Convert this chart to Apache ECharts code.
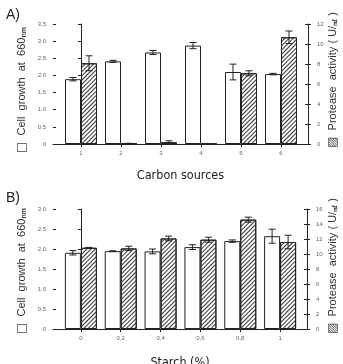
<!DOCTYPE html>
<html><head><meta charset="utf-8">
<script src="https://cdn.jsdelivr.net/npm/echarts@6/dist/echarts.min.js"></script>
<style>html,body{margin:0;padding:0;background:#fff}#c{width:343px;height:364px}</style>
</head><body><div id="c"></div>
<script>
// ---- data ----
const catsA = ['1', '2', '3', '4', '5', '6'];
const growthA = [1.89, 2.41, 2.67, 2.87, 2.10, 2.04];
const growthErrA = [0.05, 0.03, 0.06, 0.09, 0.23, 0.02];
const proteaseA = [8.07, 0.05, 0.17, 0, 7.07, 10.67];
const proteaseErrA = [0.75, 0.02, 0.15, 0, 0.25, 0.63];

const catsB = ['0', '0,2', '0,4', '0,6', '0,8', '1'];
const growthB = [1.905, 1.946, 1.94, 2.047, 2.197, 2.32];
const growthErrB = [0.055, 0.01, 0.06, 0.06, 0.03, 0.175];
const proteaseB = [10.83, 10.74, 12.07, 11.91, 14.58, 11.6];
const proteaseErrB = [0.05, 0.29, 0.31, 0.33, 0.33, 0.9];

// ---- styles ----
const BAR_W = 16;
const AX = '#222';
const LBL = '#666';
const nameFont = '"Liberation Sans", Arial, sans-serif';
const titleFont = '"Liberation Sans Narrow", "DejaVu Sans Condensed", "Liberation Sans", sans-serif';

const idx = catsA.map((_, i) => i);
const hatch = {
  color: '#fff', borderColor: AX, borderWidth: 1,
  decal: { symbol: 'rect', symbolSize: 1, dashArrayX: [1, 0], dashArrayY: [1, 1.4], rotation: -Math.PI / 4, color: '#333' }
};
const plain = { color: '#fff', borderColor: AX, borderWidth: 1 };

function xAxis(grid, cats, name, gap) {
  return {
    type: 'value', gridIndex: grid, min: -0.7, max: 5.675,
    splitLine: { show: false },
    axisLine: { lineStyle: { color: AX, width: 1 } },
    axisTick: { show: true, length: 3, customValues: idx, lineStyle: { color: AX } },
    axisLabel: { customValues: idx, formatter: v => cats[Math.round(v)], fontSize: 6, color: LBL, margin: 6 },
    name: name, nameLocation: 'middle', nameGap: gap, nameMoveOverlap: false,
    nameTextStyle: { fontSize: 12.5, color: '#222', fontFamily: titleFont }
  };
}
function yAxis(grid, pos, max, interval, showLbl, inside, name, nameGap, pad, fmt) {
  return {
    type: 'value', gridIndex: grid, position: pos, min: 0, max: max, interval: interval,
    splitLine: { show: false },
    axisLine: { show: !inside, lineStyle: { color: AX, width: 1 } },
    axisTick: { show: true, inside: inside, length: 3, lineStyle: { color: AX } },
    axisLabel: { show: showLbl, fontSize: 6, color: LBL, margin: pos === 'left' ? 7 : 9, formatter: fmt },
    name: name || '', nameLocation: 'middle', nameRotate: 90, nameGap: nameGap || 0, nameMoveOverlap: false,
    nameTextStyle: {
      fontSize: 11, color: '#333', fontFamily: nameFont, padding: pad || 0,
      rich: { s: { fontSize: 7, fontWeight: 'bold', color: '#333', fontFamily: nameFont, verticalAlign: 'bottom' },
              bx: { fontSize: 12, color: '#444', fontFamily: '"DejaVu Sans", sans-serif' } }
    }
  };
}
const fmt1 = v => (v === 0 ? '0' : v.toFixed(1));
const fmt0 = v => String(v);
const leftName = '{bx|□}  Cell  growth  at  660{s|nm}';
const rightName = '{bx|▨}  Protease  activity ( U/{s|㎖} )';

function errSeries(xi, yi, vals, errs, side) {
  return {
    type: 'custom', xAxisIndex: xi, yAxisIndex: yi, z: 5,
    data: vals.map((v, i) => [i, v, errs[i]]),
    renderItem: function (params, api) {
      const x = api.value(0), y = api.value(1), e = api.value(2);
      const t = api.coord([x, y + e]), b = api.coord([x, y - e]);
      const cx = t[0] + side * BAR_W / 2;
      const hw = 3.5;
      const st = { stroke: '#222', lineWidth: 1 };
      return { type: 'group', children: [
        { type: 'line', shape: { x1: cx, y1: t[1], x2: cx, y2: b[1] }, style: st },
        { type: 'line', shape: { x1: cx - hw, y1: t[1], x2: cx + hw, y2: t[1] }, style: st },
        { type: 'line', shape: { x1: cx - hw, y1: b[1], x2: cx + hw, y2: b[1] }, style: st }
      ] };
    }
  };
}
function barSeries(xi, yi, vals, style) {
  return {
    type: 'bar', xAxisIndex: xi, yAxisIndex: yi, barWidth: BAR_W, barGap: '0%',
    data: vals.map((v, i) => [i, v]), itemStyle: style, z: 2
  };
}

const chart = echarts.init(document.getElementById('c'), null, { renderer: 'canvas' });
chart.setOption({
  animation: false,
  title: [
    { text: 'A)', left: 1, top: 3, textStyle: { fontSize: 14, fontWeight: 'normal', color: '#222', fontFamily: nameFont } },
    { text: 'B)', left: 1, top: 186, textStyle: { fontSize: 14, fontWeight: 'normal', color: '#222', fontFamily: nameFont } }
  ],
  grid: [
    { left: 53, right: 35, top: 24, height: 120, outerBoundsMode: 'none', containLabel: false },
    { left: 53, right: 36, top: 209, height: 120, outerBoundsMode: 'none', containLabel: false }
  ],
  xAxis: [ xAxis(0, catsA, 'Carbon sources', 25), xAxis(1, catsB, 'Starch (%)', 27) ],
  yAxis: [
    yAxis(0, 'left', 3.5, 0.5, true, false, leftName, 25, [0, 12, 0, 0], fmt1),
    yAxis(0, 'right', 12, 2, true, false, rightName, 19, [0, 0, 0, 8], fmt0),
    yAxis(0, 'left', 3.5, 0.5, false, true),
    yAxis(0, 'right', 12, 2, false, true),
    yAxis(1, 'left', 3.0, 0.5, true, false, leftName, 25, [0, 4, 0, 0], fmt1),
    yAxis(1, 'right', 16, 2, true, false, rightName, 20, [0, 0, 0, 6], fmt0),
    yAxis(1, 'left', 3.0, 0.5, false, true),
    yAxis(1, 'right', 16, 2, false, true)
  ],
  series: [
    barSeries(0, 0, growthA, plain),
    barSeries(0, 1, proteaseA, hatch),
    errSeries(0, 0, growthA, growthErrA, -1),
    errSeries(0, 1, proteaseA, proteaseErrA, 1),
    barSeries(1, 4, growthB, plain),
    barSeries(1, 5, proteaseB, hatch),
    errSeries(1, 4, growthB, growthErrB, -1),
    errSeries(1, 5, proteaseB, proteaseErrB, 1)
  ]
});
</script></body></html>
